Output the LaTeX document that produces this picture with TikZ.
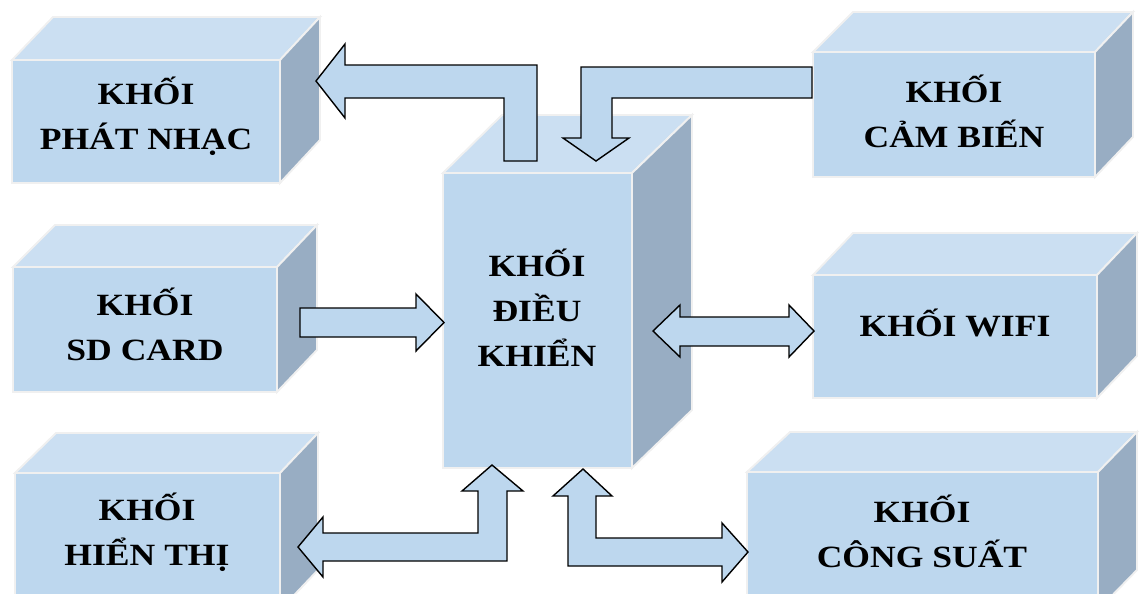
\documentclass[tikz,border=0pt]{standalone}
\usepackage{fontspec}
\setmainfont{Liberation Serif}[FakeStretch=1.15]
\usetikzlibrary{calc}

\definecolor{frontblue}{RGB}{189,215,238}
\definecolor{topblue}{RGB}{203,223,242}
\definecolor{sideblue}{RGB}{152,173,195}
\definecolor{edgegray}{RGB}{240,240,240}

\begin{document}
\begin{tikzpicture}[x=0.02cm,y=-0.02cm,line join=miter]
\tikzset{frontface/.style={fill=frontblue,draw=edgegray,line width=1.1pt},
         topface/.style={fill=topblue,draw=edgegray,line width=1.1pt},
         sideface/.style={fill=sideblue,draw=edgegray,line width=1.1pt},
         blocklabel/.style={align=center,font=\fontsize{17.6}{25.5}\selectfont\bfseries},
         blockarrow/.style={fill=frontblue,draw=black,line width=0.8pt}}
\clip (0,0) rectangle (1147,593);
% ---------- left column ----------
\draw[frontface] (12,60) rectangle (280,183);
\draw[topface]  (12,60) -- (53,17) -- (320,17) -- (280,60) -- cycle;
\draw[sideface] (280,60) -- (320,17) -- (320,140) -- (280,183) -- cycle;
\node[blocklabel] (phatnhac) at (146,116) {KHỐI\\PHÁT NHẠC};

\draw[frontface] (13,267) rectangle (277,392);
\draw[topface]  (13,267) -- (55,225) -- (317,225) -- (277,267) -- cycle;
\draw[sideface] (277,267) -- (317,225) -- (317,350) -- (277,392) -- cycle;
\node[blocklabel] (sdcard) at (145,324) {KHỐI\\SD CARD};

\draw[frontface] (15,473) rectangle (280,610);
\draw[topface]  (15,473) -- (56,433) -- (318,433) -- (280,473) -- cycle;
\draw[sideface] (280,473) -- (318,433) -- (318,570) -- (280,610) -- cycle;
\node[blocklabel] (hienthi) at (147,532) {KHỐI\\HIỂN THỊ};
% ---------- centre: control block ----------
\draw[frontface] (443,173) rectangle (632,468);
\draw[topface]  (443,173) -- (502,115) -- (692,115) -- (632,173) -- cycle;
\draw[sideface] (632,173) -- (692,115) -- (692,410) -- (632,468) -- cycle;
\node[blocklabel] (dieukhien) at (537,308) {KHỐI\\ĐIỀU\\KHIỂN};
% ---------- right column ----------
\draw[frontface] (813,52) rectangle (1095,177);
\draw[topface]  (813,52) -- (853,12) -- (1133,12) -- (1095,52) -- cycle;
\draw[sideface] (1095,52) -- (1133,12) -- (1133,137) -- (1095,177) -- cycle;
\node[blocklabel] (cambien) at (954,111) {KHỐI\\CẢM BIẾN};

\draw[frontface] (813,275) rectangle (1097,398);
\draw[topface]  (813,275) -- (853,233) -- (1137,233) -- (1097,275) -- cycle;
\draw[sideface] (1097,275) -- (1137,233) -- (1137,356) -- (1097,398) -- cycle;
\node[blocklabel] (wifi) at (955,323) {KHỐI WIFI};

\draw[frontface] (747,472) rectangle (1098,610);
\draw[topface]  (747,472) -- (790,432) -- (1137,432) -- (1098,472) -- cycle;
\draw[sideface] (1098,472) -- (1137,432) -- (1137,570) -- (1098,610) -- cycle;
\node[blocklabel] (congsuat) at (922,531) {KHỐI\\CÔNG SUẤT};
% ---------- block arrows ----------
\draw[blockarrow] (316,81) -- (345,44) -- (345,65) -- (537,65) -- (537,161)
  -- (504,161) -- (504,98) -- (345,98) -- (345,118) -- cycle;          % to music
\draw[blockarrow] (812,67) -- (581,67) -- (581,138) -- (563,138) -- (596,161)
  -- (629,138) -- (612,138) -- (612,98) -- (812,98) -- cycle;          % from sensor
\draw[blockarrow] (300,308) -- (416,308) -- (416,294) -- (444,322.5)
  -- (416,351) -- (416,337) -- (300,337) -- cycle;                     % from SD card
\draw[blockarrow] (653,331) -- (680,305) -- (680,317) -- (789,317) -- (789,305)
  -- (814,331) -- (789,357) -- (789,346) -- (680,346) -- (680,357) -- cycle; % wifi
\draw[blockarrow] (298,547) -- (323,517) -- (323,533) -- (478,533) -- (478,491)
  -- (462,491) -- (492,465) -- (523,491) -- (507,491) -- (507,561)
  -- (323,561) -- (323,577) -- cycle;                                  % display
\draw[blockarrow] (583,469) -- (612,496) -- (596,496) -- (596,538) -- (722,538)
  -- (722,523) -- (748,552) -- (722,582) -- (722,566) -- (568,566)
  -- (568,496) -- (553,496) -- cycle;                                  % power
\end{tikzpicture}
\end{document}
